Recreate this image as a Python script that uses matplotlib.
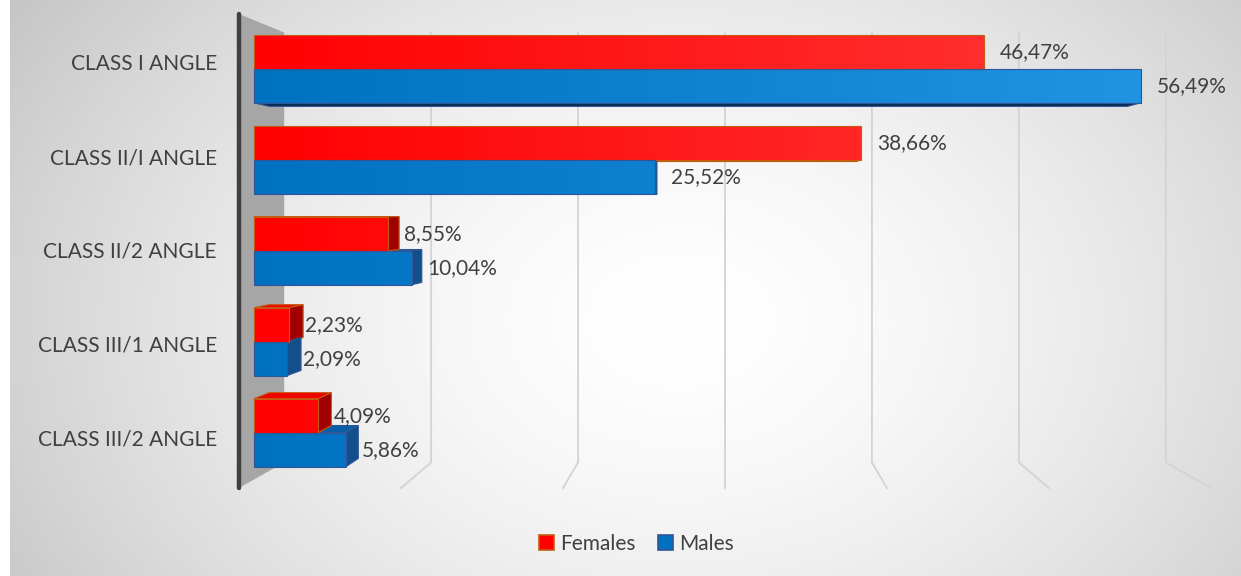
import numpy as np
import matplotlib
matplotlib.use('Agg')
import matplotlib.pyplot as plt
from matplotlib.patches import Polygon, Patch
from matplotlib.colors import LinearSegmentedColormap

plt.rcParams['font.family'] = ['Lato', 'DejaVu Sans']

categories = ['CLASS I ANGLE', 'CLASS II/I ANGLE', 'CLASS II/2 ANGLE',
              'CLASS III/1 ANGLE', 'CLASS III/2 ANGLE']
females = [46.47, 38.66, 8.55, 2.23, 4.09]
males = [56.49, 25.52, 10.04, 2.09, 5.86]
series_names = ['Females', 'Males']

# perspective setup (front plane units: x in %, y in category slots)
X_MAX, Y_MAX = 60.0, 5.0
VP_X, VP_Y = 30.0, 2.9      # vanishing point
SHRINK = 0.093              # size loss from front plane to back wall
D0, D1 = 0.33, 0.67         # bar depth span
BAR_H = 0.37
TEXT = '#404040'
FS = 15


def proj(v, y, d):
    s = 1.0 - SHRINK * d
    return (VP_X + (v - VP_X) * s, VP_Y + (y - VP_Y) * s)


W, H = 1241, 576
fig = plt.figure(figsize=(W / 100, H / 100), dpi=100)

# radial grey background
bg = fig.add_axes([0, 0, 1, 1])
yy, xx = np.mgrid[0:H, 0:W]
r = np.sqrt(((xx - 680) / 760.0) ** 2 + ((yy - 320) / 560.0) ** 2)
shade = 1.0 - 0.21 * np.clip(r, 0, 1.3) ** 1.6
img = np.dstack([shade] * 3)
img[:, :10, :] = 1.0
bg.imshow(img, extent=[0, W, H, 0], aspect='auto', interpolation='bilinear')
bg.set_xlim(0, W)
bg.set_ylim(H, 0)
bg.axis('off')

ax = fig.add_axes([239 / W, 88 / H, 972 / W, 474 / H])
ax.set_xlim(0, X_MAX)
ax.set_ylim(0, Y_MAX)
ax.axis('off')
ax.patch.set_alpha(0)

# gridlines on back wall and floor
for v in np.arange(10, 61, 10):
    bx0, by0 = proj(v, 0, 1)
    bx1, by1 = proj(v, Y_MAX, 1)
    fx, fy = proj(v, 0, 0)
    ax.plot([bx1, bx0, fx], [by1, by0, fy], color='#d3d3d3', lw=1.3,
            zorder=1, clip_on=False, solid_joinstyle='miter')

# side wall
wall = [proj(0, Y_MAX, 0), proj(0, Y_MAX, 1), proj(0, 0, 1), proj(0, 0, 0)]
ax.add_patch(Polygon(wall, closed=True, facecolor='#a6a6a6',
                     edgecolor='none', zorder=2, clip_on=False))
ax.plot([0, 0], [0, Y_MAX], color='#404040', lw=3.2, zorder=3,
        solid_capstyle='round', clip_on=False)

styles = {
    'Females': dict(grad=('#ff0000', '#ff3c3c'), edge='#c55a11',
                    end='#a00000', top='#f00000', bottom='#7a0000'),
    'Males': dict(grad=('#0070c0', '#2396e6'), edge='#2f5597',
                  end='#12508c', top='#0a5ea8', bottom='#0b2a4d'),
}

centers = 0.51 + 0.99 * np.arange(len(categories))[::-1]


def draw_bar(v, y0, y1, st):
    edge = st['edge']
    kw = dict(closed=True, linewidth=0.8, edgecolor=edge, clip_on=False)
    if y1 < VP_Y:
        face = [proj(0, y1, D0), proj(v, y1, D0), proj(v, y1, D1), proj(0, y1, D1)]
        ax.add_patch(Polygon(face, facecolor=st['top'], zorder=4, **kw))
    if y0 > VP_Y:
        face = [proj(0, y0, D0), proj(v, y0, D0), proj(v, y0, D1), proj(0, y0, D1)]
        ax.add_patch(Polygon(face, facecolor=st['bottom'], zorder=4, **kw))
    if v < VP_X:
        face = [proj(v, y0, D0), proj(v, y1, D0), proj(v, y1, D1), proj(v, y0, D1)]
        ax.add_patch(Polygon(face, facecolor=st['end'], zorder=5, **kw))
    front = [proj(0, y0, D0), proj(v, y0, D0), proj(v, y1, D0), proj(0, y1, D0)]
    poly = Polygon(front, facecolor='none', zorder=7, **kw)
    ax.add_patch(poly)
    cmap = LinearSegmentedColormap.from_list('g', st['grad'])
    grad = np.linspace(0, 1, 256).reshape(1, -1)
    im = ax.imshow(grad, cmap=cmap, extent=[0, X_MAX, 0, Y_MAX],
                   aspect='auto', zorder=6, interpolation='bilinear')
    im.set_clip_path(poly)
    return proj(v, (y0 + y1) / 2, D0)


for c, f, m in zip(centers, females, males):
    for val, y0, y1, name in [(f, c, c + BAR_H, 'Females'),
                              (m, c - BAR_H, c, 'Males')]:
        tx, ty = draw_bar(val, y0, y1, styles[name])
        ax.annotate(f'{val:.2f}%'.replace('.', ','), (tx, ty),
                    xytext=(11.5, 0), textcoords='offset points',
                    ha='left', va='center', fontsize=FS, color=TEXT,
                    zorder=8, annotation_clip=False)

for c, name in zip(centers, categories):
    ax.annotate(name, (0, c), xytext=(-16, 0), textcoords='offset points',
                ha='right', va='center', fontsize=FS, color=TEXT,
                annotation_clip=False)

handles = [Patch(facecolor='#ff0000', edgecolor='#c55a11', lw=1.2),
           Patch(facecolor='#0070c0', edgecolor='#2f5597', lw=1.2)]
fig.legend(handles, series_names, loc='center', ncol=2,
           bbox_to_anchor=(0.513, 1 - 544 / H), frameon=False,
           fontsize=FS, handlelength=0.7, handleheight=0.7,
           handletextpad=0.3, columnspacing=1.1,
           labelcolor=TEXT)

fig.savefig('out.png', dpi=100)
